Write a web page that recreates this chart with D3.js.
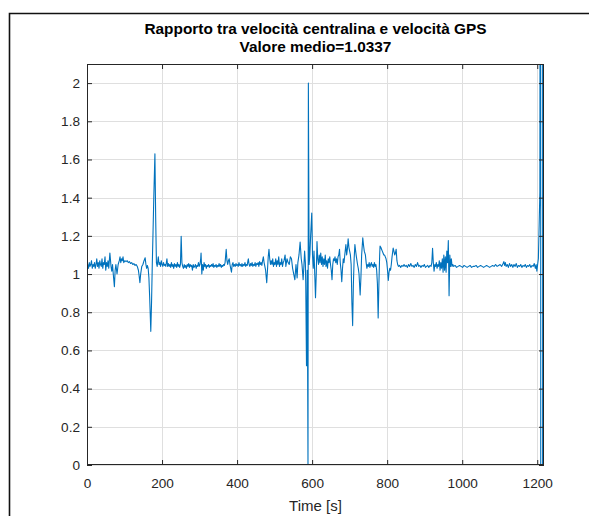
<!DOCTYPE html>
<html><head><meta charset="utf-8">
<script src="https://cdn.jsdelivr.net/npm/d3@7"></script>
<style>html,body{margin:0;padding:0;background:#fff;}svg{display:block;}</style>
</head><body>
<svg id="chart" width="589" height="516"></svg>
<script>
const titleLines = ["Rapporto tra velocità centralina e velocità GPS", "Valore medio=1.0337"];
const xLabel = "Time [s]";
const xTicks = [0, 200, 400, 600, 800, 1000, 1200];
const yTicks = [0, 0.2, 0.4, 0.6, 0.8, 1, 1.2, 1.4, 1.6, 1.8, 2];
const xDomain = [0, 1218];
const yDomain = [0, 2.1];

const time = [
0,2,4,6,8,10,12,14,16,18,20,22,24,26,28,30,32,34,36,38,40,42,44,46,48,50,52,54,56,58,
61,64,66,68,70,73,75,77,80,83,86,88,90,92,94,96,98,101,104,107,110,113,116,119,122,125,128,131,134,137,139,141,143,146,149,152,155,157,159,161,163,165,167,170,172,174,176,178,181,183,185,187,190,192,194,196,198,
200,202,204,206,208,210,213,215,217,219,221,223,225,227,229,231,233,235,237,239,241,243,245,247,249,251,253,255,257,259,261,263,265,267,269,271,273,275,277,279,281,283,285,287,289,291,293,295,297,299,
301,303,304,306,308,310,312,314,316,318,320,322,324,326,328,330,332,334,336,338,340,342,344,346,348,350,352,354,356,358,360,362,364,366,368,371,373,375,377,379,381,383,385,387,389,391,393,395,397,399,
401,403,405,407,409,411,413,415,417,419,421,423,425,427,429,430,432,434,436,438,440,442,444,446,448,450,452,454,456,458,460,462,464,466,468,470,472,474,476,479,481,483,485,487,489,491,493,495,497,499,
501,503,505,507,509,511,513,515,517,519,521,523,525,528,530,533,536,539,542,545,548,551,554,557,560,562,565,568,571,573,576,578,580,582,583,585,587,589,590,592,594,596,599,
601,603,605,607,609,611,613,615,617,619,621,623,625,627,629,631,633,635,637,639,641,643,645,647,649,651,653,655,657,659,661,663,665,667,669,671,673,675,677,679,681,683,685,687,690,692,694,696,698,
700,702,704,706,708,710,712,714,716,718,721,723,725,728,730,732,735,737,739,742,744,746,748,750,752,754,756,758,760,762,764,766,768,770,772,774,776,778,780,781,783,785,787,789,791,793,795,797,799,
801,803,805,807,809,811,813,816,818,820,822,824,826,828,830,833,836,839,842,845,848,851,854,857,860,863,866,869,872,875,878,881,884,887,890,893,896,899,
902,905,908,911,914,917,919,921,923,925,927,929,931,933,935,937,939,941,943,945,947,949,951,953,955,957,959,961,963,965,967,969,971,973,975,977,981,985,989,993,997,
1001,1005,1009,1013,1017,1021,1025,1029,1033,1037,1041,1045,1049,1053,1057,1061,1065,1069,1073,1077,1081,1085,1089,1093,1097,
1101,1105,1109,1111,1113,1115,1117,1120,1123,1126,1129,1132,1135,1138,1141,1144,1147,1150,1153,1156,1159,1162,1165,1168,1171,1174,1177,1180,1183,1186,1189,1192,1195,1197,1199,
1201,1203,1205,1207,1209,1209.3,1214.3,1214.5,1217
];

const ratio = [
1.04,1.05,1.03,1.06,1.04,1.05,1.07,1.03,1.05,1.04,1.06,1.03,1.05,1.08,1.04,1.06,1.03,1.07,1.05,1.04,1.08,1.03,1.06,1.05,1.09,1.02,1.06,1.04,1.07,1.03,
1.11,1.04,1.015,1.05,1.00,0.934,1.02,1.05,1.00,1.05,1.07,1.09,1.06,1.08,1.07,1.09,1.06,1.07,1.065,1.07,1.06,1.065,1.055,1.06,1.05,1.055,1.045,1.05,1.04,1.02,0.99,0.955,1.00,1.04,1.05,1.07,1.085,1.05,1.03,1.045,1.03,0.98,0.88,0.70,0.85,1.05,1.22,1.40,1.63,1.30,1.06,1.04,1.09,1.05,1.06,1.04,1.07,
1.05,1.04,1.06,1.045,1.05,1.04,1.08,1.04,1.055,1.04,1.05,1.035,1.06,1.04,1.05,1.03,1.055,1.04,1.05,1.035,1.06,1.04,1.05,1.035,1.05,1.198,1.06,1.04,1.03,1.05,1.035,1.045,1.03,1.05,1.04,1.055,1.035,1.05,1.04,1.045,1.02,1.05,1.035,1.04,1.05,1.03,1.045,1.04,1.06,1.04,
1.05,1.08,1.11,1.00,1.05,1.02,1.06,1.04,1.05,1.03,1.045,1.04,1.05,1.035,1.045,1.04,1.05,1.04,1.055,1.035,1.045,1.04,1.05,1.035,1.045,1.04,1.055,1.04,1.05,1.035,1.045,1.04,1.05,1.045,1.06,1.13,1.07,1.05,1.07,1.08,1.05,1.03,1.01,1.05,1.06,1.04,1.05,1.04,1.055,1.045,
1.05,1.04,1.06,1.045,1.05,1.04,1.055,1.04,1.05,1.045,1.06,1.04,1.05,1.045,1.07,1.08,1.05,1.04,1.055,1.045,1.06,1.04,1.05,1.045,1.06,1.04,1.055,1.05,1.06,1.04,1.065,1.05,1.06,1.045,1.07,1.09,1.06,1.04,1.02,0.955,1.02,1.09,1.13,1.08,1.05,1.07,1.05,1.08,1.04,1.06,
1.05,1.08,1.04,1.07,1.05,1.09,1.04,1.06,1.05,1.08,1.04,1.06,1.07,1.10,1.04,1.08,1.06,1.05,1.09,1.08,1.03,1.00,0.97,1.05,0.98,1.06,1.10,1.167,1.08,1.05,0.97,1.04,1.12,1.06,0.95,0.52,1.02,0,2.0,1.05,1.10,1.20,1.32,
1.10,1.03,1.12,1.00,0.876,1.00,1.17,1.08,1.05,1.10,1.06,1.11,1.05,1.09,1.04,1.08,1.05,1.10,1.04,1.07,1.03,1.08,1.06,1.09,1.05,1.02,0.97,1.05,1.08,1.07,1.09,1.06,1.08,1.05,1.09,1.10,1.13,1.06,1.02,0.96,1.03,1.08,1.06,1.10,1.155,1.10,1.13,1.185,1.14,
1.12,1.10,1.05,0.85,0.73,0.95,1.08,1.155,1.12,1.09,1.05,1.03,1.00,0.89,0.98,1.10,1.19,1.15,1.12,1.10,1.06,1.03,1.05,1.04,1.06,1.035,1.05,1.06,1.04,1.05,1.035,1.06,1.04,1.05,1.02,0.95,0.77,0.95,1.10,1.146,1.14,1.13,1.12,1.11,1.10,1.10,1.09,1.08,1.06,
1.02,0.966,1.01,1.03,1.02,1.05,1.09,1.136,1.12,1.10,1.11,1.13,1.07,1.05,1.04,1.045,1.035,1.045,1.04,1.05,1.04,1.045,1.035,1.05,1.04,1.055,1.04,1.045,1.035,1.05,1.04,1.06,1.04,1.045,1.035,1.045,1.04,1.05,
1.035,1.04,1.045,1.035,1.045,1.04,1.06,1.135,1.06,1.015,1.05,1.04,1.06,1.03,1.05,1.04,1.07,1.02,1.06,1.03,1.08,1.01,1.10,1.02,1.09,1.01,1.12,1.06,1.175,0.887,1.10,1.04,1.08,1.04,1.05,1.04,1.045,1.035,1.04,1.045,1.04,
1.035,1.045,1.04,1.035,1.04,1.045,1.035,1.04,1.04,1.045,1.035,1.04,1.045,1.04,1.035,1.04,1.045,1.04,1.035,1.04,1.045,1.04,1.05,1.04,1.045,
1.05,1.04,1.055,1.065,1.045,1.06,1.04,1.05,1.035,1.055,1.04,1.05,1.035,1.05,1.04,1.055,1.035,1.045,1.04,1.05,1.035,1.045,1.04,1.05,1.035,1.045,1.04,1.05,1.035,1.045,1.04,1.055,1.03,1.05,1.015,
1.05,1.08,1.25,1.43,6,-1,-1,6,6
];

const svg = d3.select("#chart");
const W = 589, H = 516;
const plot = {left: 87, right: 544, top: 64, bottom: 465};
const font = "'Liberation Sans', Arial, Helvetica, sans-serif";
const axisColor = "#262626";

const x = d3.scaleLinear().domain(xDomain).range([plot.left, plot.right]);
const y = d3.scaleLinear().domain(yDomain).range([plot.bottom, plot.top]);

svg.append("rect").attr("width", W).attr("height", H).attr("fill", "#fff");

// figure frame
svg.append("path").attr("d", `M9.5,${H} V13.5 H${W}`).attr("fill", "none").attr("stroke", "#111").attr("stroke-width", 1.6);

// grid
const grid = svg.append("g").attr("stroke", "#dfdfdf").attr("stroke-width", 1);
grid.selectAll("line.gx").data(xTicks).join("line").attr("class", "gx")
  .attr("x1", d => Math.round(x(d)) + 0.5).attr("x2", d => Math.round(x(d)) + 0.5)
  .attr("y1", plot.top).attr("y2", plot.bottom);
grid.selectAll("line.gy").data(yTicks).join("line").attr("class", "gy")
  .attr("y1", d => Math.round(y(d)) + 0.5).attr("y2", d => Math.round(y(d)) + 0.5)
  .attr("x1", plot.left).attr("x2", plot.right);

// data line
svg.append("clipPath").attr("id", "clip").append("rect")
  .attr("x", plot.left).attr("y", plot.top).attr("width", plot.right - plot.left).attr("height", plot.bottom - plot.top);
const pts = time.map((t, i) => [t, ratio[i]]);
svg.append("path").datum(pts).attr("clip-path", "url(#clip)")
  .attr("fill", "none").attr("stroke", "#0072BD").attr("stroke-width", 1.1).attr("stroke-linejoin", "round")
  .attr("d", d3.line().x(d => x(d[0])).y(d => y(d[1])));

// axes
const fmt = d => String(+d.toFixed(1));
const gB = svg.append("g").attr("transform", `translate(0,${plot.bottom})`)
  .call(d3.axisBottom(x).tickValues(xTicks).tickFormat(fmt).tickSizeInner(-5).tickSizeOuter(0).tickPadding(13));
const gT = svg.append("g").attr("transform", `translate(0,${plot.top})`)
  .call(d3.axisTop(x).tickValues(xTicks).tickFormat("").tickSizeInner(-5).tickSizeOuter(0));
const gL = svg.append("g").attr("transform", `translate(${plot.left},0)`)
  .call(d3.axisLeft(y).tickValues(yTicks).tickFormat(fmt).tickSizeInner(-5).tickSizeOuter(0).tickPadding(7));
const gR = svg.append("g").attr("transform", `translate(${plot.right},0)`)
  .call(d3.axisRight(y).tickValues(yTicks).tickFormat("").tickSizeInner(-5).tickSizeOuter(0));
[gB, gT, gL, gR].forEach(g => {
  g.select(".domain").remove();
  g.selectAll(".tick line").attr("stroke", axisColor);
  g.selectAll("text").attr("fill", axisColor).style("font-family", font).style("font-size", "13.6px");
});
svg.append("rect").attr("x", plot.left + 0.5).attr("y", plot.top + 0.5)
  .attr("width", plot.right - plot.left - 1).attr("height", plot.bottom - plot.top - 1)
  .attr("fill", "none").attr("stroke", axisColor).attr("stroke-width", 1);

// titles
const cx = (plot.left + plot.right) / 2;
svg.append("text").attr("x", cx).attr("y", 33.5).attr("text-anchor", "middle")
  .style("font-family", font).style("font-size", "15.4px").style("font-weight", "bold").attr("fill", "#000")
  .text(titleLines[0]);
svg.append("text").attr("x", cx).attr("y", 51.5).attr("text-anchor", "middle")
  .style("font-family", font).style("font-size", "15.4px").style("font-weight", "bold").attr("fill", "#000")
  .text(titleLines[1]);
svg.append("text").attr("x", cx).attr("y", 511).attr("text-anchor", "middle")
  .style("font-family", font).style("font-size", "15px").attr("fill", axisColor)
  .text(xLabel);
</script>
</body></html>
